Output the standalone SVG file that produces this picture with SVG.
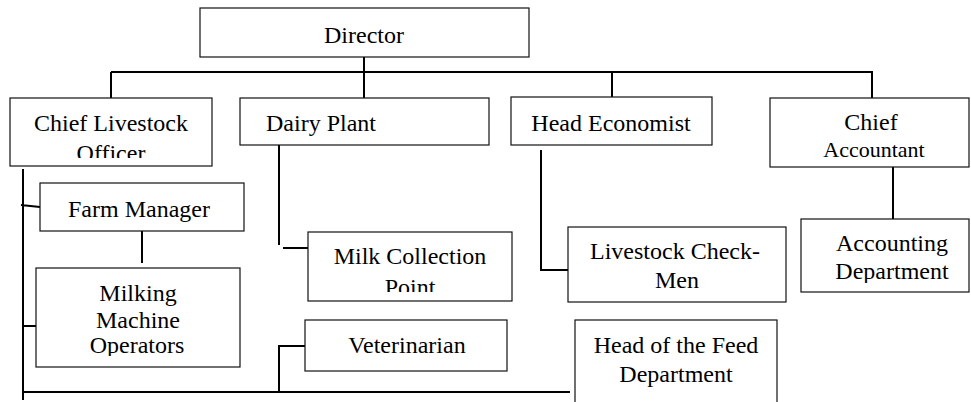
<svg xmlns="http://www.w3.org/2000/svg" width="971" height="402" viewBox="0 0 971 402">
<style>
.box{fill:#fff;stroke:#111;stroke-width:1.2}
.t{font-family:"Liberation Serif","Times New Roman",serif;font-size:24px;fill:#000;text-anchor:middle}
.tl{text-anchor:start}
.c{stroke:#000;stroke-width:2;fill:none}
</style>
<defs>
<clipPath id="cOfficer"><rect x="0" y="100" width="971" height="58"/></clipPath>
<clipPath id="cPoint"><rect x="0" y="235" width="971" height="57"/></clipPath>
<clipPath id="cOper"><rect x="0" y="270" width="971" height="86"/></clipPath>
<clipPath id="cAcc"><rect x="0" y="222" width="971" height="61"/></clipPath>
</defs>
<rect width="971" height="402" fill="#fff"/>
<g id="connectors">
<path class="c" d="M364 57V72M111 72H873M111 72V98M364 72V98M612 72V97M872 72V98"/>
<path class="c" d="M23 169V400M21 205L40 207M23 326H42M23 392H570"/>
<path class="c" d="M142 231V263"/>
<path class="c" d="M279 145V245M283 248H308"/>
<path class="c" d="M279 392V346H305"/>
<path class="c" d="M541 150V270H569"/>
<path class="c" d="M893 167V219"/>
</g>
<g id="director"><rect class="box" x="200" y="8" width="329" height="49"/><text class="t" x="364" y="43">Director</text></g>
<g id="chief-livestock"><rect class="box" x="10" y="98" width="202" height="68"/><text class="t" x="111" y="131">Chief Livestock</text><text class="t" x="111" y="161" clip-path="url(#cOfficer)">Officer</text></g>
<g id="dairy-plant"><rect class="box" x="240" y="98" width="249" height="47"/><text class="t tl" x="266" y="131">Dairy Plant</text></g>
<g id="head-economist"><rect class="box" x="511" y="97" width="201" height="48"/><text class="t" x="611" y="131">Head Economist</text></g>
<g id="chief-accountant"><rect class="box" x="770" y="98" width="199" height="69"/><text class="t" x="871" y="130">Chief</text><text class="t" x="874" y="157" style="font-size:22px">Accountant</text></g>
<g id="farm-manager"><rect class="box" x="40" y="183" width="204" height="48"/><text class="t" x="139" y="217">Farm Manager</text></g>
<g id="milking"><rect class="box" x="36" y="268" width="204" height="99"/><text class="t" x="138" y="301">Milking</text><text class="t" x="138" y="328">Machine</text><text class="t" x="137" y="353" clip-path="url(#cOper)">Operators</text></g>
<g id="milk-collection"><rect class="box" x="308" y="232" width="204" height="69"/><text class="t" x="410" y="264">Milk Collection</text><text class="t" x="410" y="295" clip-path="url(#cPoint)">Point</text></g>
<g id="veterinarian"><rect class="box" x="305" y="320" width="202" height="51"/><text class="t" x="407" y="353">Veterinarian</text></g>
<g id="livestock-checkmen"><rect class="box" x="568" y="227" width="218" height="75"/><text class="t" x="675" y="259">Livestock Check-</text><text class="t" x="677" y="288">Men</text></g>
<g id="accounting"><rect class="box" x="801" y="219" width="168" height="73"/><text class="t" x="892" y="251">Accounting</text><text class="t" x="892" y="279" clip-path="url(#cAcc)">Department</text></g>
<g id="feed-head"><rect class="box" x="575" y="320" width="202" height="90"/><text class="t" x="676" y="353">Head of the Feed</text><text class="t" x="676" y="382">Department</text></g>
</svg>
